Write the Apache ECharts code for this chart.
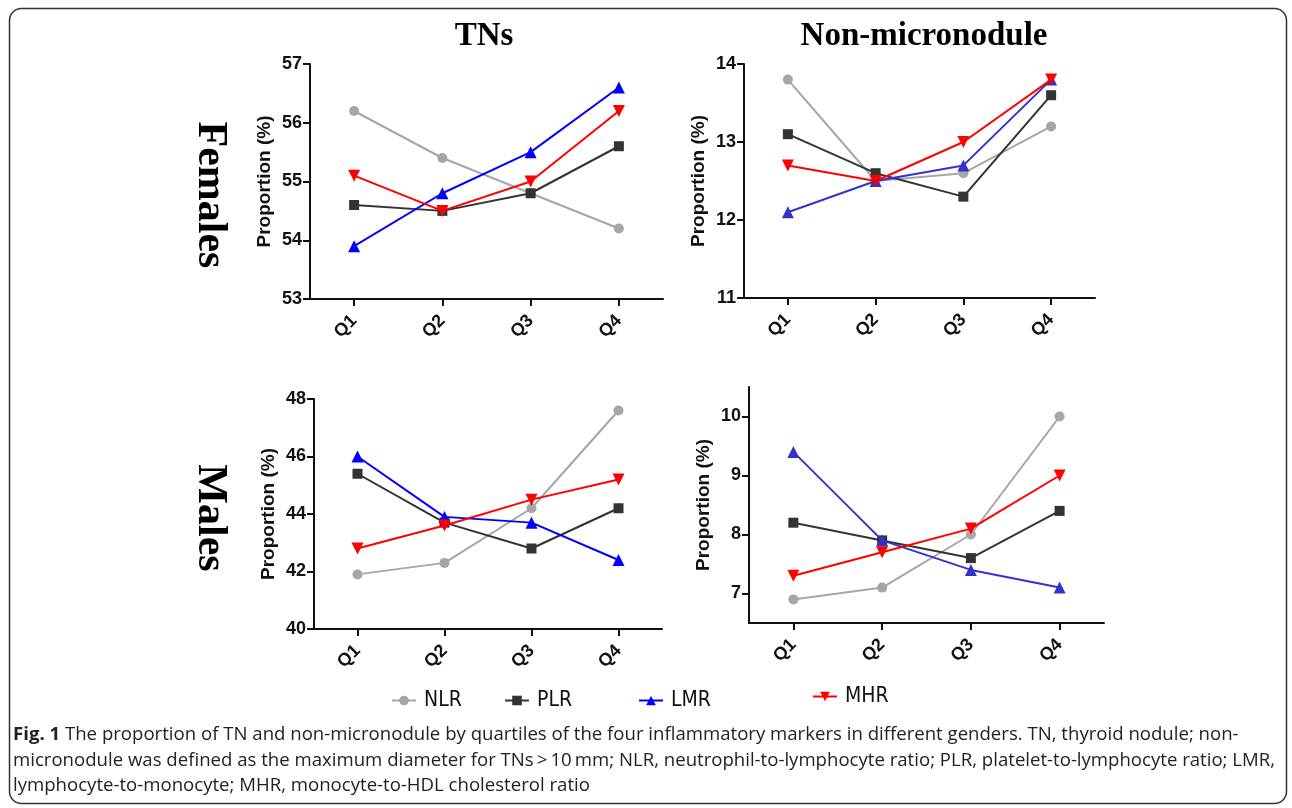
<!DOCTYPE html>
<html>
<head>
<meta charset="utf-8">
<script src="https://cdn.jsdelivr.net/npm/echarts@6/dist/echarts.min.js"></script>
<style>
html,body{margin:0;padding:0;background:#fff;}
#c{width:1292px;height:808px;}
</style>
</head>
<body>
<div id="c"></div>
<script>
// ---- data ----
const categories = ['Q1', 'Q2', 'Q3', 'Q4'];
const seriesNames = ['NLR', 'PLR', 'LMR', 'MHR'];
const columnTitles = ['TNs', 'Non-micronodule'];
const rowTitles = ['Females', 'Males'];
const yAxisName = 'Proportion (%)';

// Females, TNs
const femTN_NLR = [56.2, 55.4, 54.8, 54.2];
const femTN_PLR = [54.6, 54.5, 54.8, 55.6];
const femTN_LMR = [53.9, 54.8, 55.5, 56.6];
const femTN_MHR = [55.1, 54.5, 55.0, 56.2];
// Females, Non-micronodule
const femNM_NLR = [13.8, 12.5, 12.6, 13.2];
const femNM_PLR = [13.1, 12.6, 12.3, 13.6];
const femNM_LMR = [12.1, 12.5, 12.7, 13.8];
const femNM_MHR = [12.7, 12.5, 13.0, 13.8];
// Males, TNs
const malTN_NLR = [41.9, 42.3, 44.2, 47.6];
const malTN_PLR = [45.4, 43.7, 42.8, 44.2];
const malTN_LMR = [46.0, 43.9, 43.7, 42.4];
const malTN_MHR = [42.8, 43.6, 44.5, 45.2];
// Males, Non-micronodule
const malNM_NLR = [6.9, 7.1, 8.0, 10.0];
const malNM_PLR = [8.2, 7.9, 7.6, 8.4];
const malNM_LMR = [9.4, 7.9, 7.4, 7.1];
const malNM_MHR = [7.3, 7.7, 8.1, 9.0];

// y-axis ticks per panel
const ticksP1 = [53, 54, 55, 56, 57];
const ticksP2 = [11, 12, 13, 14];
const ticksP3 = [40, 42, 44, 46, 48];
const ticksP4 = [7, 8, 9, 10];

const captionLines = [
  'The proportion of TN and non-micronodule by quartiles of the four inflammatory markers in different genders. TN, thyroid nodule; non-',
  'micronodule was defined as the maximum diameter for TNs\u2009>\u200910\u2009mm; NLR, neutrophil-to-lymphocyte ratio; PLR, platelet-to-lymphocyte ratio; LMR,',
  'lymphocyte-to-monocyte; MHR, monocyte-to-HDL cholesterol ratio'
];
const captionLead = 'Fig. 1';

// ---- layout / style ----
const panels = [
  {grid: {left: 310, top: 64, width: 353, height: 235}, min: 53, max: 57, ticks: ticksP1,
   data: [femTN_NLR, femTN_PLR, femTN_LMR, femTN_MHR], lmr: '#0000ff'},
  {grid: {left: 744, top: 64, width: 351, height: 234}, min: 11, max: 14, ticks: ticksP2,
   data: [femNM_NLR, femNM_PLR, femNM_LMR, femNM_MHR], lmr: '#3333cc'},
  {grid: {left: 314, top: 399, width: 348, height: 230}, min: 40, max: 48, ticks: ticksP3,
   data: [malTN_NLR, malTN_PLR, malTN_LMR, malTN_MHR], lmr: '#0000ff'},
  {grid: {left: 749, top: 387, width: 355, height: 236}, min: 6.5, max: 10.5, ticks: ticksP4,
   data: [malNM_NLR, malNM_PLR, malNM_LMR, malNM_MHR], lmr: '#3333cc'}
];

const axisColor = '#111';
const labelFont = {fontFamily: '"Liberation Sans", Arial, sans-serif', fontWeight: 'bold', fontSize: 18, color: '#111'};

function seriesStyle(idx, lmrColor) {
  const colors = ['#a6a6a6', '#333333', lmrColor, '#ff0000'];
  const symbols = ['circle', 'rect', 'triangle', 'triangle'];
  const sizes = [10, 10, 12, 12];
  const rot = [0, 0, 0, 180];
  return {color: colors[idx], symbol: symbols[idx], size: sizes[idx], rotate: rot[idx]};
}

const grids = [], xAxes = [], yAxes = [], series = [];
panels.forEach((p, i) => {
  grids.push(p.grid);
  xAxes.push({
    type: 'category', gridIndex: i, data: categories, boundaryGap: true,
    axisLine: {lineStyle: {color: axisColor, width: 2}},
    axisTick: {show: true, alignWithLabel: true, length: 7, lineStyle: {color: axisColor, width: 2}},
    axisLabel: Object.assign({rotate: 45, margin: 19, interval: 0}, labelFont),
    splitLine: {show: false}
  });
  yAxes.push({
    type: 'value', gridIndex: i, min: p.min, max: p.max,
    name: yAxisName, nameLocation: 'middle', nameGap: 36,
    nameTextStyle: {fontFamily: '"Liberation Sans", Arial, sans-serif', fontWeight: 'bold', fontSize: 19, color: '#111'},
    axisLine: {show: true, lineStyle: {color: axisColor, width: 2}},
    axisTick: {show: true, length: 7, customValues: p.ticks, lineStyle: {color: axisColor, width: 2}},
    axisLabel: Object.assign({margin: 8, customValues: p.ticks}, labelFont),
    splitLine: {show: false}
  });
  p.data.forEach((vals, k) => {
    const st = seriesStyle(k, p.lmr);
    series.push({
      type: 'line', name: seriesNames[k], xAxisIndex: i, yAxisIndex: i, data: vals,
      symbol: st.symbol, symbolSize: st.size, symbolRotate: st.rotate, showAllSymbol: true,
      lineStyle: {color: st.color, width: 2},
      itemStyle: {color: st.color, borderWidth: 0},
      z: 2 + k, animation: false
    });
  });
});

const legendLefts = [386, 499, 633, 807];
const legendTops = [685, 685, 685, 681];
const legends = seriesNames.map((n, k) => ({
  data: [n], left: legendLefts[k], top: legendTops[k], orient: 'horizontal',
  itemWidth: 24, itemHeight: 12, selectedMode: false,
  textStyle: {fontFamily: '"Liberation Sans Narrow", "DejaVu Sans Condensed", "Liberation Sans", sans-serif', fontSize: 21, color: '#111', padding: [0, 0, 0, 3]}
}));

const titleFont = 'bold 33px "Liberation Serif", "Times New Roman", serif';
const rowFont = 'bold 42px "Liberation Serif", "Times New Roman", serif';
const capFont = '18.6px "Open Sans", sans-serif';
const graphic = [
  {type: 'rect', shape: {x: 9.5, y: 8.5, width: 1277, height: 795, r: 12}, style: {fill: 'none', stroke: '#333', lineWidth: 1.5}, silent: true},
  {type: 'text', x: 484, y: 36, style: {text: columnTitles[0], font: titleFont, fill: '#000', textAlign: 'center', textVerticalAlign: 'middle'}},
  {type: 'text', x: 924, y: 36, style: {text: columnTitles[1], font: titleFont, fill: '#000', textAlign: 'center', textVerticalAlign: 'middle'}},
  {type: 'text', x: 210, y: 195, rotation: -Math.PI / 2, style: {text: rowTitles[0], font: rowFont, fill: '#000', textAlign: 'center', textVerticalAlign: 'middle'}},
  {type: 'text', x: 210, y: 518, rotation: -Math.PI / 2, style: {text: rowTitles[1], font: rowFont, fill: '#000', textAlign: 'center', textVerticalAlign: 'middle'}},
  {type: 'text', x: 13, y: 735, style: {text: '{b|' + captionLead + '} ' + captionLines[0], rich: {b: {fontWeight: 'bold', fontFamily: 'Open Sans', fontSize: 18.6, fill: '#222'}}, font: capFont, fill: '#222', textVerticalAlign: 'middle'}},
  {type: 'text', x: 13, y: 761, style: {text: captionLines[1], font: capFont, fill: '#222', textVerticalAlign: 'middle'}},
  {type: 'text', x: 13, y: 786, style: {text: captionLines[2], font: capFont, fill: '#222', textVerticalAlign: 'middle'}}
];

const chart = echarts.init(document.getElementById('c'), null, {renderer: 'canvas'});
chart.setOption({
  backgroundColor: '#fff',
  animation: false,
  grid: grids, xAxis: xAxes, yAxis: yAxes, series: series,
  legend: legends,
  graphic: graphic
});
</script>
</body>
</html>
